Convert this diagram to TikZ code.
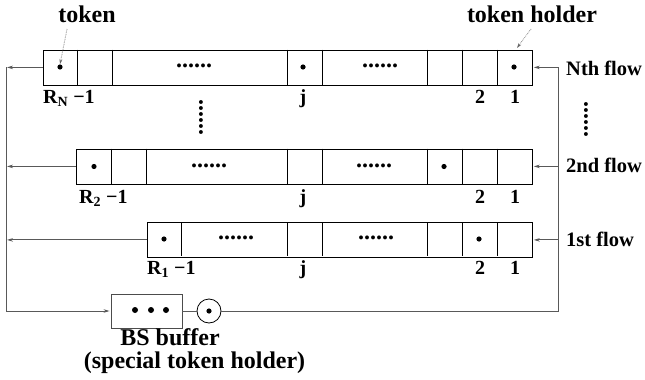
\documentclass[tikz,border=0pt]{standalone}
\usepackage{fontspec}
\setmainfont{Liberation Serif}
\usetikzlibrary{arrows.meta}
\tikzset{
  rowbox/.style={draw=black, line width=0.8pt, minimum height=35pt, inner sep=0pt, anchor=north west},
  cellline/.style={draw=black, line width=0.8pt},
  conn/.style={draw=black!65, line width=0.9pt},
  arr/.style={conn, -{Stealth[length=6pt,width=3.5pt]}, shorten >=1pt},
  dotarr/.style={draw=black!60, line width=0.7pt, densely dotted, -{Stealth[length=5pt,width=3pt]}},
  tokdot/.style={circle, fill=black, inner sep=0pt, minimum size=5.2pt},
  bigtxt/.style={font=\bfseries\fontsize{24}{28}\selectfont, inner sep=0pt},
  flowtxt/.style={font=\bfseries\fontsize{20.5}{24}\selectfont, inner sep=0pt, anchor=west},
  idx/.style={font=\bfseries\fontsize{20}{24}\selectfont, inner sep=0pt, anchor=base},
  ellip/.style={font=\bfseries\fontsize{24}{28}\selectfont, inner sep=0pt},
}
\begin{document}
\begin{tikzpicture}[x=1pt,y=-1pt]
\useasboundingbox (0,0) rectangle (645,380);

% ---- rows ----
\node[rowbox, minimum width=489pt] (rowN) at (43,49.5) {};
\foreach \x in {77,112,287,322,427,462,497} \draw[cellline] (\x,49.5) -- (\x,84.5);
\node[rowbox, minimum width=456pt] (row2) at (76,148.5) {};
\foreach \x in {111,146,287,322,427,462,497} \draw[cellline] (\x,148.5) -- (\x,184.5);
\node[rowbox, minimum width=385pt] (row1) at (147,222) {};
\foreach \x in {181,287,322,427,462,497} \draw[cellline] (\x,222) -- (\x,256);

% ---- dots in cells ----
\node[tokdot] (dN1) at (60,67) {};
\node[tokdot] (dN2) at (303,67) {};
\node[tokdot] (dN3) at (514,67) {};
\node[tokdot] (d21) at (94,166.5) {};
\node[tokdot] (d22) at (444,166.5) {};
\node[tokdot] (d11) at (164,239) {};
\node[tokdot] (d12) at (479,239) {};

% ---- ellipses ----
\node[ellip] (eN1) at (194,66) {......};
\node[ellip] (eN2) at (380,66) {......};
\node[ellip] (e21) at (209,165.5) {......};
\node[ellip] (e22) at (374,165.5) {......};
\node[ellip] (e11) at (236,238) {......};
\node[ellip] (e12) at (376,238) {......};
\node[ellip, rotate=90] (vL) at (201,117.5) {......};
\node[ellip, rotate=90] (vR) at (586,119.5) {......};

% ---- index labels ----
\node[idx, anchor=base west] (rN) at (43,103) {R\textsubscript{N} −1};
\node[idx] (jN) at (303,103) {j};
\node[idx] (tN) at (480,103) {2};
\node[idx] (oN) at (515,103) {1};
\node[idx, anchor=base west] (r2) at (79,203) {R\textsubscript{2} −1};
\node[idx] (j2) at (303,203) {j};
\node[idx] (t2) at (480,203) {2};
\node[idx] (o2) at (515,203) {1};
\node[idx, anchor=base west] (r1) at (147,274) {R\textsubscript{1} −1};
\node[idx] (j1) at (303,274) {j};
\node[idx] (t1) at (480,274) {2};
\node[idx] (o1) at (515,274) {1};

% ---- flow labels ----
\node[flowtxt] (fN) at (566,68) {Nth flow};
\node[flowtxt] (f2) at (566,165) {2nd flow};
\node[flowtxt] (f1) at (566,239) {1st flow};

% ---- top labels ----
\node[bigtxt, anchor=base] (tok) at (87,23) {token};
\node[bigtxt, anchor=base] (tokh) at (532,23) {token holder};
\coordinate (tokfrom) at (67,29);
\coordinate (holdfrom) at (531,29);
\coordinate (holdto) at (517,48);
\draw[dotarr] (tokfrom) -- (dN1.north);
\draw[dotarr] (holdfrom) -- (holdto);

% ---- BS buffer ----
\node[draw=black!70, line width=0.9pt, minimum width=71pt, minimum height=34pt, inner sep=0pt] (bs) at (146.5,311) {};
\node[tokdot, minimum size=6pt] (b1) at (135,310) {};
\node[tokdot, minimum size=6pt] (b2) at (151,310) {};
\node[tokdot, minimum size=6pt] (b3) at (166,310) {};
\node[circle, draw=black, line width=0.8pt, minimum size=24pt, inner sep=0pt] (circ) at (209,311) {};
\node[tokdot] (cdot) at (209,311) {};
\draw[conn] (bs.east) -- (circ.west);
\node[bigtxt, anchor=base] (bsl) at (170,345) {BS buffer};
\node[bigtxt, anchor=base] (bsl2) at (194.5,368.5) {(special token holder)};

% ---- loop connectors ----
\coordinate (Ltop) at (6,67);
\coordinate (Lbot) at (6,311);
\coordinate (Rtop) at (558,67);
\coordinate (Rbot) at (558,311);
\draw[conn] (Ltop) -- (Lbot);
\draw[arr] (Lbot) -- (bs.west);
\draw[conn] (circ.east) -- (Rbot) -- (Rtop);
\draw[arr] (rowN.west) -- (rowN.west -| Ltop);
\draw[arr] (row2.west) -- (row2.west -| Ltop);
\draw[arr] (row1.west) -- (row1.west -| Ltop);
\draw[arr] (rowN.east -| Rtop) -- (rowN.east);
\draw[arr] (row2.east -| Rtop) -- (row2.east);
\draw[arr] (row1.east -| Rtop) -- (row1.east);
\end{tikzpicture}
\end{document}
